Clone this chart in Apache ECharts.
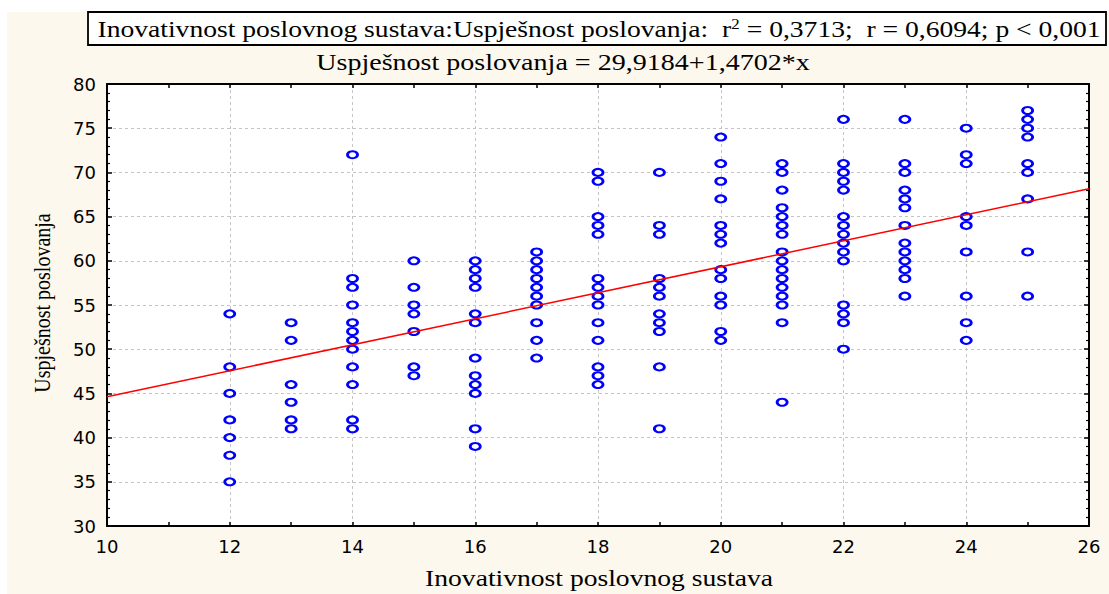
<!DOCTYPE html>
<html>
<head>
<meta charset="utf-8">
<script src="https://cdn.jsdelivr.net/npm/echarts@6/dist/echarts.min.js"></script>
<style>
html,body{margin:0;padding:0;background:#ffffff;}
#chart{width:1109px;height:594px;}
</style>
</head>
<body>
<div id="chart"></div>
<script>
// ---- data ----
const xCategories = [12, 13, 14, 15, 16, 17, 18, 19, 20, 21, 22, 23, 24, 25];
const yAt12 = [54, 48, 45, 42, 40, 38, 35];
const yAt13 = [53, 51, 46, 44, 42, 41];
const yAt14 = [72, 58, 57, 55, 53, 52, 51, 50, 48, 46, 42, 41];
const yAt15 = [60, 57, 55, 54, 52, 48, 47];
const yAt16 = [60, 59, 58, 57, 54, 53, 49, 47, 46, 45, 41, 39];
const yAt17 = [61, 60, 59, 58, 57, 56, 55, 53, 51, 49];
const yAt18 = [70, 69, 65, 64, 63, 58, 57, 56, 55, 53, 51, 48, 47, 46];
const yAt19 = [70, 64, 63, 58, 57, 56, 54, 53, 52, 48, 41];
const yAt20 = [74, 71, 69, 67, 64, 63, 62, 59, 58, 56, 55, 52, 51];
const yAt21 = [71, 70, 68, 66, 65, 64, 63, 61, 60, 59, 58, 57, 56, 55, 53, 44];
const yAt22 = [76, 71, 70, 69, 68, 65, 64, 63, 62, 61, 60, 55, 54, 53, 50];
const yAt23 = [76, 71, 70, 68, 67, 66, 64, 62, 61, 60, 59, 58, 56];
const yAt24 = [75, 72, 71, 65, 64, 61, 56, 53, 51];
const yAt25 = [77, 76, 75, 74, 71, 70, 67, 61, 56];
const yColumns = [yAt12, yAt13, yAt14, yAt15, yAt16, yAt17, yAt18, yAt19, yAt20, yAt21, yAt22, yAt23, yAt24, yAt25];

const regIntercept = 29.9184;
const regSlope = 1.4702;
const regXRange = [10, 26];

const xTicks = [10, 12, 14, 16, 18, 20, 22, 24, 26];
const yTicks = [30, 35, 40, 45, 50, 55, 60, 65, 70, 75, 80];

const titleText = 'Inovativnost poslovnog sustava:Uspješnost poslovanja:  r{sup|2} = 0,3713;  r = 0,6094; p < 0,001';
const subtitleText = 'Uspješnost poslovanja = 29,9184+1,4702*x';
const xName = 'Inovativnost poslovnog sustava';
const yName = 'Uspješnost poslovanja';

// ---- build ----
const points = [];
xCategories.forEach((x, i) => yColumns[i].forEach(y => points.push([x, y])));
const regLine = regXRange.map(x => [x, regIntercept + regSlope * x]);

const serif = '"Liberation Serif", "Times New Roman", serif';
const tickFont = { fontFamily: '"DejaVu Sans", sans-serif', fontSize: 18, color: '#000' };
const black = '#000000';

const chart = echarts.init(document.getElementById('chart'), null, { renderer: 'svg' });

function baseX(pos, showLabels) {
  return {
    type: 'value', position: pos, min: xTicks[0], max: xTicks[xTicks.length - 1], interval: 2,
    axisLine: { show: true, onZero: false, lineStyle: { color: black, width: 2 } },
    axisTick: { show: true, inside: true, length: 4, lineStyle: { color: black, width: 1.5 } },
    minorTick: { show: true, splitNumber: 2, length: 4, lineStyle: { color: black, width: 1.5 } },
    axisLabel: showLabels ? Object.assign({ margin: 11 }, tickFont) : { show: false },
    splitLine: showLabels ? { show: true, lineStyle: { color: '#c4c4c4', type: [3, 3], width: 1 } } : { show: false }
  };
}
function baseY(pos, showLabels) {
  return {
    type: 'value', position: pos, min: yTicks[0], max: yTicks[yTicks.length - 1], interval: 5,
    axisLine: { show: true, onZero: false, lineStyle: { color: black, width: 2 } },
    axisTick: { show: true, inside: true, length: 5, lineStyle: { color: black, width: 1.5 } },
    minorTick: { show: true, splitNumber: 5, length: 3, lineStyle: { color: black, width: 1.2 } },
    axisLabel: showLabels ? Object.assign({ margin: 11 }, tickFont) : { show: false },
    splitLine: showLabels ? { show: true, lineStyle: { color: '#c4c4c4', type: [3, 3], width: 1 } } : { show: false }
  };
}

chart.setOption({
  animation: false,
  backgroundColor: '#fdf8ed',
  grid: { left: 107, right: 20, top: 84, bottom: 68, show: true, backgroundColor: '#ffffff', borderWidth: 0 },
  xAxis: [baseX('bottom', true), baseX('top', false)],
  yAxis: [baseY('left', true), baseY('right', false)],
  graphic: [
    { type: 'rect', left: 0, top: 0, shape: { width: 1109, height: 12 }, style: { fill: '#ffffff' }, silent: true },
    { type: 'rect', left: 0, top: 0, shape: { width: 7, height: 594 }, style: { fill: '#ffffff' }, silent: true },
    { type: 'rect', shape: { x: 88, y: 12, width: 1018, height: 33 }, style: { fill: '#ffffff', stroke: black, lineWidth: 1.8 }, silent: true },
    { type: 'text', x: 599, y: 29, scaleX: 1.2,
      style: { text: titleText, font: '23px ' + serif, fill: black, align: 'center', verticalAlign: 'middle',
        rich: { sup: { fontSize: 14, fontFamily: serif, verticalAlign: 'top', padding: [0, 0, 10, 0], fill: black } } } },
    { type: 'text', x: 563, y: 62, scaleX: 1.22,
      style: { text: subtitleText, font: '23px ' + serif, fill: black, align: 'center', verticalAlign: 'middle' } },
    { type: 'text', x: 599, y: 578, scaleX: 1.2,
      style: { text: xName, font: '23px ' + serif, fill: black, align: 'center', verticalAlign: 'middle' } },
    { type: 'text', x: 42, y: 303, rotation: Math.PI / 2, scaleY: 1.2,
      style: { text: yName, font: '20px ' + serif, fill: black, align: 'center', verticalAlign: 'middle' } }
  ],
  series: [
    { type: 'scatter', xAxisIndex: 0, yAxisIndex: 0, data: points, symbol: 'circle', symbolSize: [10, 7],
      itemStyle: { color: '#ffffff', borderColor: '#0000ff', borderWidth: 2.4, opacity: 1 }, z: 3 },
    { type: 'line', xAxisIndex: 0, yAxisIndex: 0, data: regLine, showSymbol: false, symbol: 'none',
      lineStyle: { color: '#ff0000', width: 1.5 }, z: 4 }
  ]
});
</script>
</body>
</html>
